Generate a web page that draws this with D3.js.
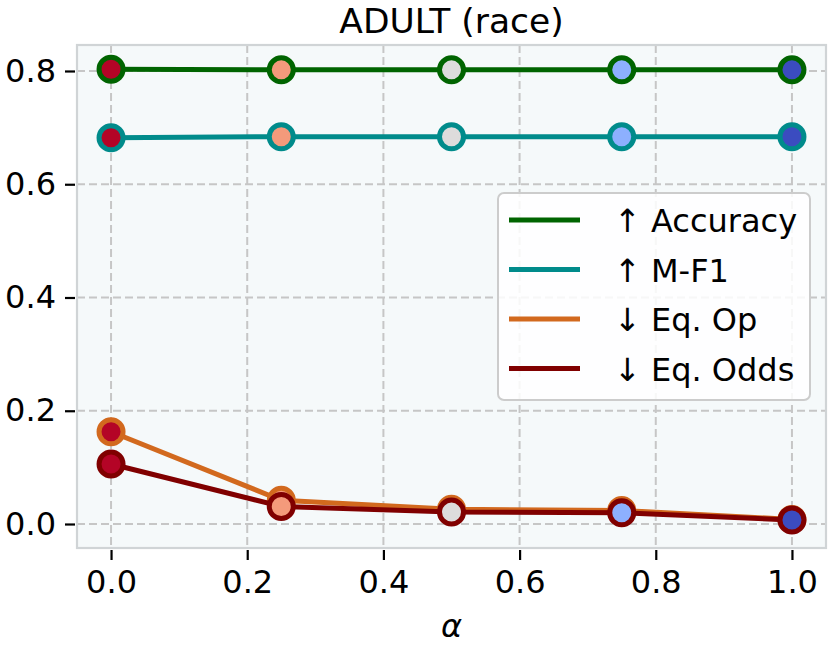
<!DOCTYPE html>
<html>
<head>
<meta charset="utf-8">
<script src="https://cdn.jsdelivr.net/npm/d3@7"></script>
<style>
  html, body { margin: 0; padding: 0; background: #fff; }
  svg { display: block; font-family: "DejaVu Sans", sans-serif; }
</style>
</head>
<body>
<svg id="chart" width="830" height="650"></svg>
<script>
// ---- data ----
const alphas = [0, 0.25, 0.5, 0.75, 1.0];
const accuracy = [0.803, 0.802, 0.802, 0.802, 0.802];
const mf1 = [0.682, 0.684, 0.684, 0.684, 0.684];
const eqOp = [0.163, 0.042, 0.026, 0.024, 0.008];
const eqOdds = [0.106, 0.031, 0.021, 0.020, 0.007];
const seriesNames = ["\u2191 Accuracy", "\u2191 M-F1", "\u2193 Eq. Op", "\u2193 Eq. Odds"];
const xTicks = [0, 0.2, 0.4, 0.6, 0.8, 1.0];
const yTicks = [0, 0.2, 0.4, 0.6, 0.8];
const title = "ADULT (race)";
const xLabel = "\u03b1";

// ---- styles ----
const lineColors = ["#006400", "#008b8b", "#d2691e", "#800000"];
const markerColors = ["#b40426", "#f49a7b", "#dddcdc", "#8db0fe", "#3b4cc0"];
const seriesValues = [accuracy, mf1, eqOp, eqOdds];

const svg = d3.select("#chart");
const L = 77, R = 826, T = 45, B = 548;

const x = d3.scaleLinear().domain([-0.05, 1.05]).range([L, R]);
const y = d3.scaleLinear().domain([-0.04238, 0.8459]).range([B, T]);

// plot background
svg.append("rect").attr("x", L).attr("y", T).attr("width", R - L).attr("height", B - T)
  .attr("fill", "#f5f9fa");

// grid
const grid = svg.append("g");
grid.selectAll(".gx").data(xTicks).join("line")
  .attr("x1", d => x(d)).attr("x2", d => x(d)).attr("y1", T).attr("y2", B)
  .attr("stroke", "#c6c6c6").attr("stroke-width", 2).attr("stroke-dasharray", "8,4");
grid.selectAll(".gy").data(yTicks).join("line")
  .attr("x1", L).attr("x2", R).attr("y1", d => y(d)).attr("y2", d => y(d))
  .attr("stroke", "#c6c6c6").attr("stroke-width", 2).attr("stroke-dasharray", "8,4");

// frame
svg.append("rect").attr("x", L).attr("y", T).attr("width", R - L).attr("height", B - T)
  .attr("fill", "none").attr("stroke", "#d0d4d6").attr("stroke-width", 2.2);

// axes
const xAxis = d3.axisBottom(x).tickValues(xTicks).tickFormat(d3.format(".1f"))
  .tickSizeInner(10).tickSizeOuter(0).tickPadding(10);
const gx = svg.append("g").attr("transform", `translate(0,${B + 2})`).call(xAxis);
gx.select(".domain").remove();
gx.selectAll("line").attr("stroke", "#000").attr("stroke-width", 2.2);
gx.selectAll("text").attr("font-size", 32).attr("fill", "#000")
  .attr("font-family", "DejaVu Sans, sans-serif");

const yAxis = d3.axisLeft(y).tickValues(yTicks).tickFormat(d3.format(".1f"))
  .tickSizeInner(10).tickSizeOuter(0).tickPadding(9);
const gy = svg.append("g").attr("transform", `translate(${L - 2},0)`).call(yAxis);
gy.select(".domain").remove();
gy.selectAll("line").attr("stroke", "#000").attr("stroke-width", 2.2);
gy.selectAll("text").attr("font-size", 32).attr("fill", "#000")
  .attr("font-family", "DejaVu Sans, sans-serif");

// series
const lineGen = d3.line().x((d, i) => x(alphas[i])).y(d => y(d));
seriesValues.forEach((vals, s) => {
  const g = svg.append("g");
  g.append("path").datum(vals).attr("d", lineGen)
    .attr("fill", "none").attr("stroke", lineColors[s]).attr("stroke-width", 5)
    .attr("stroke-linejoin", "round");
  g.selectAll("circle").data(vals).join("circle")
    .attr("cx", (d, i) => x(alphas[i])).attr("cy", d => y(d)).attr("r", 12)
    .attr("fill", (d, i) => markerColors[i])
    .attr("stroke", lineColors[s]).attr("stroke-width", 5);
});

// title
svg.append("text").attr("x", (L + R) / 2).attr("y", 32.5).attr("text-anchor", "middle")
  .attr("font-size", 34.5).attr("fill", "#000").text(title);

// x label
svg.append("text").attr("x", (L + R) / 2).attr("y", 637).attr("text-anchor", "middle")
  .attr("font-size", 32).attr("font-style", "italic").attr("fill", "#000").text(xLabel);

// legend
const lg = svg.append("g");
lg.append("rect").attr("x", 498).attr("y", 193).attr("width", 312).attr("height", 207)
  .attr("rx", 6).attr("fill", "#ffffff").attr("fill-opacity", 0.85)
  .attr("stroke", "#cccccc").attr("stroke-width", 2);
seriesNames.forEach((name, i) => {
  const cy = 220 + i * 49.5;
  lg.append("line").attr("x1", 509).attr("x2", 580).attr("y1", cy).attr("y2", cy)
    .attr("stroke", lineColors[i]).attr("stroke-width", 5);
  lg.append("text").attr("x", 614).attr("y", cy + 12).attr("font-size", 32)
    .attr("fill", "#000").text(name);
});
</script>
</body>
</html>
